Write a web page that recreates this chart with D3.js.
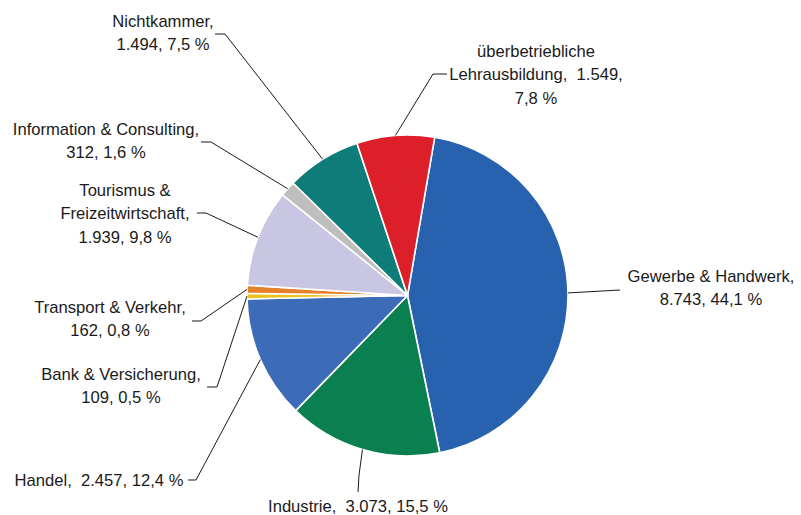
<!DOCTYPE html>
<html>
<head>
<meta charset="utf-8">
<script src="https://cdn.jsdelivr.net/npm/d3@7"></script>
<style>
  html, body { margin: 0; padding: 0; background: #fff; }
  text { font-family: "Liberation Sans", Arial, sans-serif; font-size: 16.6px; fill: #1a1a1a; white-space: pre; }
</style>
</head>
<body>
<svg id="chart" width="801" height="515"></svg>
<script>
// ****************************************
// Data

var categories = ["Gewerbe & Handwerk", "Industrie", "Handel", "Bank & Versicherung", "Transport & Verkehr",
                  "Tourismus &|Freizeitwirtschaft", "Information & Consulting", "Nichtkammer", "überbetriebliche|Lehrausbildung"];
var values = [8743, 3073, 2457, 109, 162, 1939, 312, 1494, 1549];
var colors = ["#2862ae", "#0a7f50", "#3c6cb7", "#ebc11d", "#e6802b", "#c9c6e3", "#bebebe", "#0e7c78", "#dc1f29"];

// label layout: text rows (templates), center x, first baseline, leader knee points (text side first)
var label_rows = [
  ["{n0},", "{v}, {p}"],
  ["{n0},  {v}, {p}"],
  ["{n0},  {v}, {p}"],
  ["{n0},", "{v}, {p}"],
  ["{n0},", "{v}, {p}"],
  ["{n0}", "{n1},", "{v}, {p}"],
  ["{n0},", "{v}, {p}"],
  ["{n0},", "{v}, {p}"],
  ["{n0}", "{n1},  {v},", "{p}"]
];
var label_pos = [[711, 282], [358, 512], [99, 486], [121, 380], [110, 313], [125, 196], [106, 135], [163, 27], [536, 57]];
var label_knees = [
  [[620, 290]],
  [[358, 492], [359, 475]],
  [[188, 480], [196, 480]],
  [[207, 387], [217, 387]],
  [[192, 321], [201, 321]],
  [[197, 213], [206, 213]],
  [[201, 142], [211, 142]],
  [[215, 34], [225, 34]],
  [[447, 74], [433, 74]]
];

// ****************************************
// Setup

var width = 801, height = 515;
var cx = 407.5, cy = 295.5, radius = 160.5;
var start_offset = 9.75 * Math.PI / 180;

var de = d3.formatLocale({ decimal: ",", thousands: ".", grouping: [3], currency: ["", " €"] });
var fmt_value = de.format(",d");
var fmt_pct = de.format(",.1f");

var svg = d3.select('#chart');
svg.append('rect').attr('width', width).attr('height', height).attr('fill', '#fff');

var total = d3.sum(values);
var data = values.map((v, i) => ({ name: categories[i], value: v, color: colors[i], i: i }));

var pie = d3.pie().value(d => d.value).sort(null)
  .startAngle(start_offset).endAngle(start_offset + 2 * Math.PI);
var arc = d3.arc().innerRadius(0).outerRadius(radius);
var arcs = pie(data);

var g = svg.append('g').attr('transform', 'translate(' + cx + ',' + cy + ')');

// ****************************************
// Slices

g.selectAll('path.slice').data(arcs).enter().append('path')
  .attr('class', 'slice')
  .attr('d', arc)
  .attr('fill', d => d.data.color)
  .attr('stroke', '#fff')
  .attr('stroke-width', 1.6)
  .attr('stroke-linejoin', 'round');

// ****************************************
// Leader lines

var line = d3.line();
arcs.forEach((a, i) => {
  var mid = (a.startAngle + a.endAngle) / 2;
  var end = [cx + radius * Math.sin(mid), cy - radius * Math.cos(mid)];
  var pts = label_knees[i].concat([end]);
  svg.append('path').attr('d', line(pts))
    .attr('fill', 'none').attr('stroke', '#1a1a1a').attr('stroke-width', 1);
});

// ****************************************
// Labels

arcs.forEach((a, i) => {
  var parts = a.data.name.split('|');
  var v = fmt_value(a.data.value);
  var p = fmt_pct(100 * a.data.value / total) + ' %';
  var t = svg.append('text').attr('text-anchor', 'middle')
    .attr('x', label_pos[i][0]).attr('y', label_pos[i][1]);
  label_rows[i].forEach((row, k) => {
    var s = row.replace('{n0}', parts[0]).replace('{n1}', parts[1] || '').replace('{v}', v).replace('{p}', p);
    t.append('tspan').attr('x', label_pos[i][0]).attr('dy', k === 0 ? 0 : 23.3).text(s);
  });
});
</script>
</body>
</html>
